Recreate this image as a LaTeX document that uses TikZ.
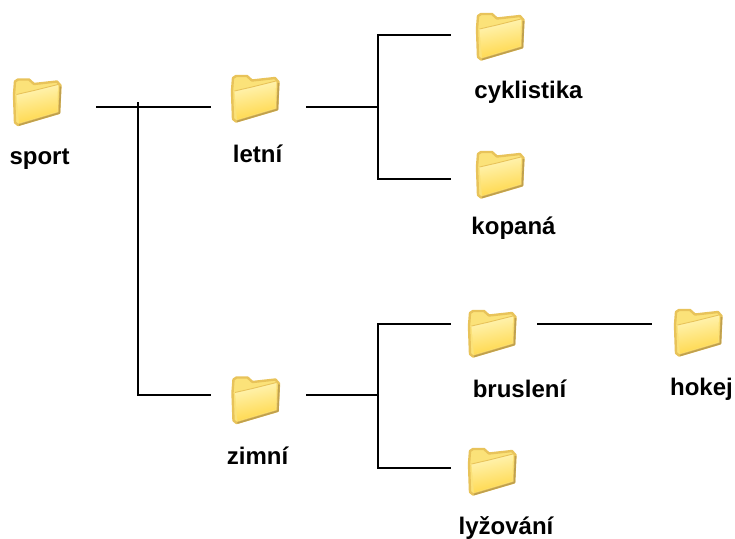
\documentclass[tikz,border=0pt]{standalone}
\usepackage{fontspec}
\setmainfont{Liberation Sans}
\usetikzlibrary{calc}
\definecolor{foldline}{HTML}{E8C35A}
\definecolor{foldshade}{HTML}{BFA04F}
\definecolor{foldback}{HTML}{FBE279}
\definecolor{foldlight}{HTML}{FFF5B8}
\definecolor{folddark}{HTML}{FFD748}
\tikzset{
    lbl/.style = {inner sep = 0pt, anchor = base, font = \fontsize{24}{26}\selectfont\bfseries},
    conn/.style = {line width = 1.7pt},
    foldbox/.style = {inner sep = 0pt, minimum width = 48pt, minimum height = 48pt},
    pics/folder/.style = {code = {
        % soft shadow, back and tab
        \filldraw [draw = foldline, line width = 2.4pt, fill = foldback, line join = round]
            (-23,-7) -- (-22,-20) -- (-19,-22) -- (-8,-22) -- (-3,-17.5) -- (20,-20) -- (23.5,-16) -- (22,11.5) -- (-19,23.5) -- (-22,21) -- cycle;
        \draw [foldshade, line width = 1.6pt, line join = round] (23.5,-15) -- (22.5,11.5) -- (-18,23.5);
        % front panel
        \shade [top color = foldlight, bottom color = folddark, shading angle = 12]
            (-20.5,-7) -- (-3,-11) -- (21,-17) -- (20,10) -- (-18,21.5) -- cycle;
        \draw [foldline, line width = 0.9pt, line join = round] (-20.5,-7) -- (-3,-11) -- (21,-17);
        \node [foldbox] (-box) at (0,0) {};
    }}
}
\begin{document}
\begin{tikzpicture}[x = 1pt, y = -1pt]
    \useasboundingbox (0,0) rectangle (735,538);
    \pic (sport) at (37,101.5) {folder};
    \pic (letni) at (255,98) {folder};
    \pic (zimni) at (255.5,399.5) {folder};
    \pic (cyklistika) at (500,36) {folder};
    \pic (kopana) at (500,174) {folder};
    \pic (brusleni) at (492,333) {folder};
    \pic (lyzovani) at (492,471) {folder};
    \pic (hokej) at (698,332) {folder};
    \node [lbl] (sportlbl) at (39.5,164) {sport};
    \node [lbl] (letnilbl) at (257.5,162) {letní};
    \node [lbl] (zimnilbl) at (257.5,464) {zimní};
    \node [lbl] (cyklistikalbl) at (528.5,98) {cyklistika};
    \node [lbl] (kopanalbl) at (513.5,234) {kopaná};
    \node [lbl] (bruslenilbl) at (519.5,397) {bruslení};
    \node [lbl] (hokejlbl) at (701.5,395) {hokej};
    \node [lbl] (lyzovanilbl) at (506,534) {lyžování};
    % free ends of the lines
    \coordinate (sportout) at ($(sport-box.east)+(35,5.5)$);
    \coordinate (letniin) at ($(letni-box.west)+(-20,9)$);
    \coordinate (letniout) at ($(letni-box.east)+(27,9)$);
    \coordinate (zimniin) at ($(zimni-box.west)+(-20.5,-4.5)$);
    \coordinate (zimniout) at ($(zimni-box.east)+(26.5,-4.5)$);
    \coordinate (cyklistikain) at ($(cyklistika-box.west)+(-25,-1.3)$);
    \coordinate (kopanain) at ($(kopana-box.west)+(-25,5)$);
    \coordinate (brusleniin) at ($(brusleni-box.west)+(-17,-9)$);
    \coordinate (brusleniout) at ($(brusleni-box.east)+(21,-9)$);
    \coordinate (hokejin) at ($(hokej-box.west)+(-22,-8)$);
    \coordinate (lyzovaniin) at ($(lyzovani-box.west)+(-17,-3)$);
    \coordinate (sportfork) at (138,102);
    \coordinate (letnifork) at (378,107);
    \coordinate (zimnifork) at (378,395);
    % lines
    \draw [conn] (sportout) -- (letniin);
    \draw [conn] (sportfork) |- (zimniin);
    \draw [conn] (letniout) -- (letnifork);
    \draw [conn] (cyklistikain) -- (letnifork |- cyklistikain) -- (letnifork |- kopanain) -- (kopanain);
    \draw [conn] (zimniout) -- (zimnifork);
    \draw [conn] (brusleniin) -- (zimnifork |- brusleniin) -- (zimnifork |- lyzovaniin) -- (lyzovaniin);
    \draw [conn] (brusleniout) -- (hokejin);
\end{tikzpicture}
\end{document}
